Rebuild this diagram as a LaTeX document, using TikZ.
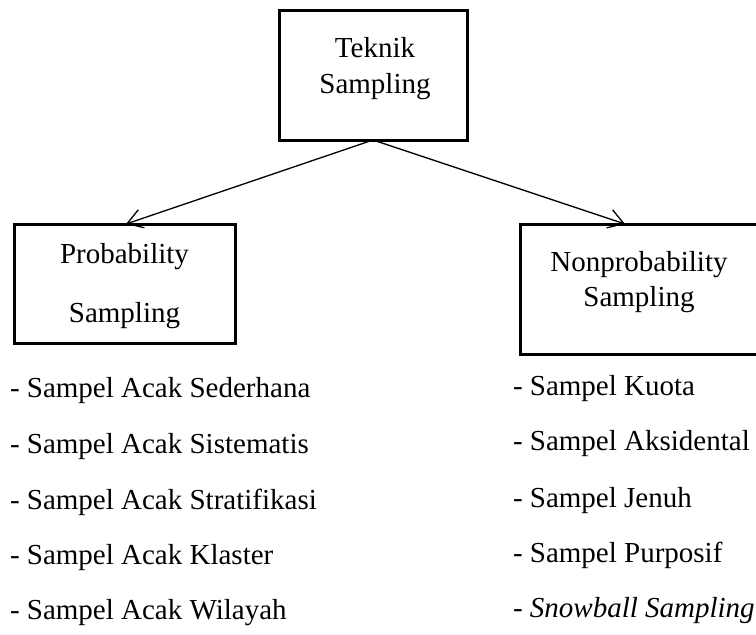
\documentclass[tikz,border=0pt]{standalone}
\usepackage{fontspec}
\setmainfont{Liberation Serif}
\usetikzlibrary{arrows.meta}
\begin{document}
\begin{tikzpicture}[x=1pt,y=-1pt,
  box/.style={draw,line width=3pt,rectangle,inner sep=0pt,outer sep=0pt},
  txt/.style={inner sep=0pt,outer sep=0pt,font=\fontsize{29pt}{34pt}\selectfont},
  arr/.style={line width=1.3pt,-{Straight Barb[length=15pt,width=19pt,line width=1.3pt]}}]
\useasboundingbox (0,0) rectangle (756,635);
% boxes
\node[box,minimum width=188pt,minimum height=130pt] (teknik) at (373,75) {};
\node[box,minimum width=221pt,minimum height=119pt] (prob) at (124.5,283.5) {};
\node[box,minimum width=238pt,minimum height=130pt] (nonprob) at (639,289) {};
% box texts
\node[txt,anchor=base] (t1) at (375,57) {Teknik};
\node[txt,anchor=base] (t2) at (375,93) {Sampling};
\node[txt,anchor=base] (p1) at (124.5,263) {Probability};
\node[txt,anchor=base] (p2) at (124.5,322) {Sampling};
\node[txt,anchor=base] (n1) at (639,271) {Nonprobability};
\node[txt,anchor=base] (n2) at (639,306) {Sampling};
% arrows
\draw[arr] (teknik.south) -- ([xshift=112pt]prob.north west);
\draw[arr] (teknik.south) -- ([xshift=105pt]nonprob.north west);
% left list
\node[txt,anchor=base west] (l1) at (10,397) {- Sampel Acak Sederhana};
\node[txt,anchor=base west] (l2) at (10,453) {- Sampel Acak Sistematis};
\node[txt,anchor=base west] (l3) at (10,509) {- Sampel Acak Stratifikasi};
\node[txt,anchor=base west] (l4) at (10,564) {- Sampel Acak Klaster};
\node[txt,anchor=base west] (l5) at (10,619) {- Sampel Acak Wilayah};
% right list
\node[txt,anchor=base west] (r1) at (513,395) {- Sampel Kuota};
\node[txt,anchor=base west] (r2) at (513,450) {- Sampel Aksidental};
\node[txt,anchor=base west] (r3) at (513,507) {- Sampel Jenuh};
\node[txt,anchor=base west] (r4) at (513,562) {- Sampel Purposif};
\node[txt,anchor=base west] (r5) at (513,617) {- \textit{Snowball Sampling}};
\end{tikzpicture}
\end{document}
